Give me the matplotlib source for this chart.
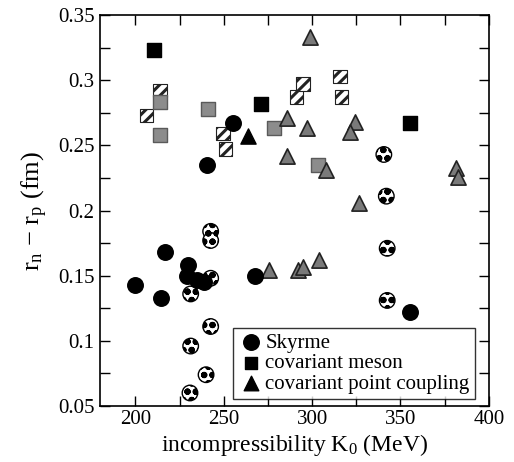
import matplotlib
matplotlib.use("Agg")
import matplotlib.pyplot as plt
from matplotlib.ticker import MultipleLocator, FuncFormatter

plt.rcParams['font.family'] = ['Liberation Serif', 'DejaVu Serif']
plt.rcParams['mathtext.fontset'] = 'custom'
plt.rcParams['mathtext.rm'] = 'Liberation Serif'
plt.rcParams['mathtext.it'] = 'Liberation Serif'
plt.rcParams['hatch.linewidth'] = 2.2

# Skyrme (solid circles)
sky_K = [200, 214.3, 217, 229.8, 229.4, 235, 238.8, 267.7, 255, 240.7, 355.3]
sky_r = [0.143, 0.133, 0.168, 0.158, 0.150, 0.147, 0.145, 0.150, 0.267, 0.235, 0.122]
# Skyrme variants (checkered circles)
skyc_K = [242.6, 242.6, 242.6, 231.3, 242.6, 231.3, 240, 230.9, 340.6, 342, 342.5, 342.5]
skyc_r = [0.184, 0.177, 0.148, 0.136, 0.111, 0.096, 0.074, 0.060, 0.243, 0.211, 0.171, 0.131]
# covariant meson (solid squares)
mes_K = [210.5, 271, 355.5]
mes_r = [0.323, 0.282, 0.267]
# covariant meson variants (hatched squares)
mesh_K = [214, 206.4, 249.7, 250.9, 291.2, 295, 315.7, 316.7]
mesh_r = [0.292, 0.273, 0.259, 0.247, 0.287, 0.297, 0.303, 0.287]
# covariant meson variants (gray stippled squares)
mesg_K = [214, 214, 241.3, 278.4, 303.5]
mesg_r = [0.283, 0.258, 0.278, 0.263, 0.235]
# covariant point coupling (solid triangle)
pc_K = [263.5]
pc_r = [0.257]
# covariant point coupling variants (gray triangles)
pcg_K = [285.6, 286, 298.8, 297.3, 324, 321.4, 307.7, 326.7, 381.7, 382.7,
         275.6, 292.2, 294.6, 303.9]
pcg_r = [0.271, 0.242, 0.333, 0.263, 0.268, 0.260, 0.231, 0.206, 0.233, 0.226,
         0.154, 0.154, 0.157, 0.162]

fig = plt.figure(figsize=(5.14, 4.62), dpi=100)
ax = fig.add_axes([0.1946, 0.1212, 0.7564, 0.8463])

s_c = 125
s_s = 95
s_t = 120
ax.scatter(skyc_K, skyc_r, s=s_c, marker='o', facecolor='white', edgecolor='black',
           hatch='oo', linewidths=1.0, zorder=3)
ax.scatter(sky_K, sky_r, s=s_c, marker='o', color='black', zorder=4)
ax.scatter(mesh_K, mesh_r, s=s_s, marker='s', facecolor='white', edgecolor='#222222',
           hatch='///', linewidths=0.8, zorder=3)
ax.scatter(mesg_K, mesg_r, s=s_s, marker='s', facecolor='#8c8c8c', edgecolor='#5a5a5a',
           linewidths=1.0, zorder=3)
ax.scatter(mes_K, mes_r, s=s_s, marker='s', color='black', zorder=4)
ax.scatter(pcg_K, pcg_r, s=s_t, marker='^', facecolor='#7a7a7a', edgecolor='#222222',
           linewidths=1.2, zorder=3)
ax.scatter(pc_K, pc_r, s=s_t, marker='^', color='black', zorder=4)

# legend handles
h1 = ax.scatter([], [], s=s_c, marker='o', color='black', label='Skyrme')
h2 = ax.scatter([], [], s=80, marker='s', color='black', label='covariant meson')
h3 = ax.scatter([], [], s=110, marker='^', color='black', label='covariant point coupling')
leg = ax.legend(handles=[h1, h2, h3], loc='lower right', fontsize=15, frameon=True,
                fancybox=False, edgecolor='black', handletextpad=0.1,
                borderpad=0.25, labelspacing=0.05, handlelength=1.2,
                borderaxespad=0, bbox_to_anchor=(0.964, 0.018))
leg.get_frame().set_linewidth(1.0)

ax.set_xlim(180, 400)
ax.set_ylim(0.05, 0.35)
ax.xaxis.set_major_locator(MultipleLocator(50))
ax.xaxis.set_minor_locator(MultipleLocator(25))
ax.yaxis.set_major_locator(MultipleLocator(0.05))
ax.yaxis.set_minor_locator(MultipleLocator(0.025))
ax.yaxis.set_major_formatter(FuncFormatter(lambda v, p: ('%g' % round(v, 3))))
ax.tick_params(which='both', direction='in', top=True, right=True, labelsize=15,
               length=7, width=1.0)
ax.tick_params(axis='x', pad=3)
ax.tick_params(axis='y', pad=4)
for sp in ax.spines.values():
    sp.set_linewidth(1.2)

ax.set_xlabel('incompressibility K$_0$ (MeV)', fontsize=17, labelpad=2)
ax.set_ylabel('r$_n$ $-$ r$_p$ (fm)', fontsize=19, labelpad=6)

fig.savefig('out.png', dpi=100)
